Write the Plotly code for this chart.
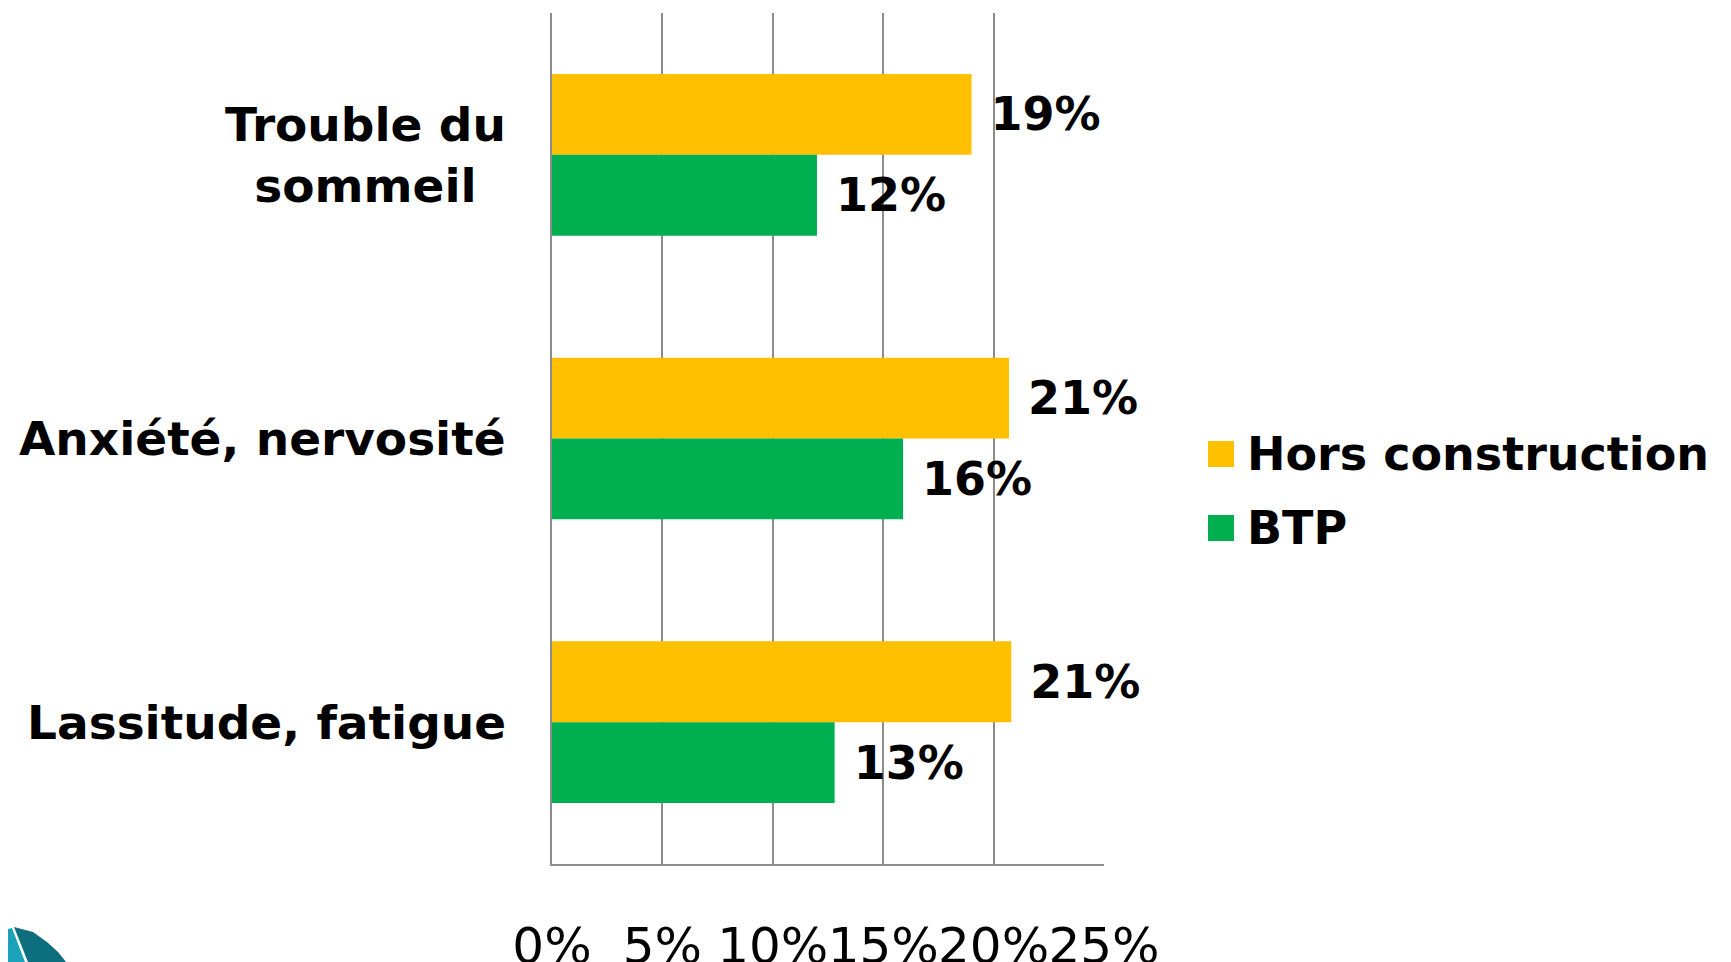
import plotly.graph_objects as go

categories = ["Trouble du<br>sommeil", "Anxiété, nervosité", "Lassitude, fatigue"]
hors_construction = [19.0, 20.7, 20.8]
btp = [12.0, 15.9, 12.8]
tick_vals = [0, 5, 10, 15, 20, 25]
tick_text = ["0%", "5%", "10%", "15%", "20%", "25%"]
series_names = ["Hors construction", "BTP"]
series_colors = ["#FFC000", "#00B050"]

W, H = 1731, 962
OFF = 8  # page body margin
L, R, T, B = 552 - OFF, 1104 - OFF, 13 - OFF, 864 - OFF

FONT = "DejaVu Sans"

fig = go.Figure()
for name, vals, col in zip(series_names, [hors_construction, btp], series_colors):
    fig.add_trace(go.Bar(
        y=categories, x=vals, orientation="h", name=name, showlegend=False,
        marker=dict(color=col, line=dict(width=0)),
        texttemplate=" %{x:.0f}%", textposition="outside", cliponaxis=False,
        textfont=dict(family=FONT, size=46, color="black", weight="bold"),
    ))

for c in categories:
    fig.add_annotation(
        x=0, xref="paper", y=c, yref="y", text=c, showarrow=False,
        xanchor="right", xshift=-44, align="center",
        font=dict(family=FONT, size=47, color="black", weight="bold"),
    )

def px(xp):
    return (xp - OFF - L) / (R - L)

def py(yp):
    return (B - (yp - OFF)) / (B - T)

def path(pts):
    return "M " + " L ".join(f"{px(a):.4f},{py(b):.4f}" for a, b in pts) + " Z"

# legend (drawn manually to get the larger square keys)
legend_rows = [454, 528]
for name, col, yc in zip(series_names, series_colors, legend_rows):
    fig.add_shape(type="rect", xref="paper", yref="paper",
                  x0=px(1208), x1=px(1234), y0=py(yc - 13), y1=py(yc + 13),
                  fillcolor=col, line=dict(width=0))
    fig.add_annotation(x=px(1245), y=py(yc), xref="paper", yref="paper",
                       text=name, showarrow=False, xanchor="left", yanchor="middle",
                       font=dict(family=FONT, size=46, color="black", weight="bold"))

# partial logo in the bottom-left corner
fig.add_shape(type="path", xref="paper", yref="paper", layer="above",
              path=path([(14, 927), (33, 932), (47, 942), (58, 952), (66, 962), (28, 962)]),
              fillcolor="#0D6E7E", line=dict(width=0))
fig.add_shape(type="path", xref="paper", yref="paper", layer="above",
              path=path([(0, 931), (12, 928), (25, 962), (0, 962)]),
              fillcolor="#1AA3B8", line=dict(width=0))

fig.update_layout(
    width=W, height=H,
    margin=dict(l=L, r=W - R, t=T, b=H - B, autoexpand=False),
    paper_bgcolor="white", plot_bgcolor="white",
    barmode="group", bargap=0.43, bargroupgap=0,
    font=dict(family=FONT, color="black"),
    showlegend=False,
    xaxis=dict(
        range=[0, 25], tickvals=tick_vals, ticktext=tick_text, tickangle=0,
        showgrid=True, gridcolor="#8C8C8C", gridwidth=2,
        showline=True, linecolor="#8C8C8C", linewidth=2, mirror=False,
        zeroline=False, ticks="", ticklabelstandoff=37,
        tickfont=dict(family=FONT, size=50, color="black"),
        fixedrange=True,
    ),
    yaxis=dict(
        autorange="reversed", showticklabels=False, showgrid=False,
        showline=True, linecolor="#8C8C8C", linewidth=2, zeroline=False,
        ticks="", fixedrange=True,
    ),
)

fig.write_html("out.html")
